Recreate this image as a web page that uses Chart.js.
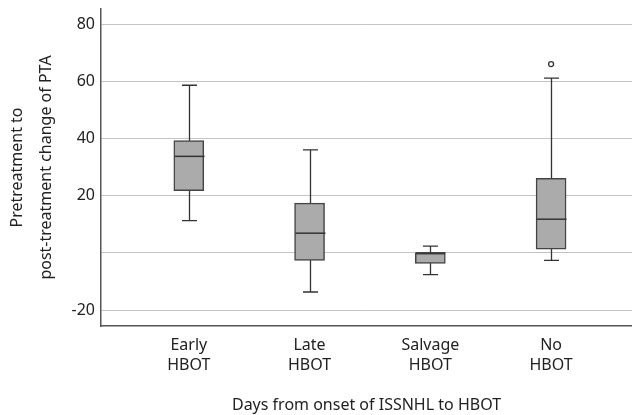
<!DOCTYPE html>
<html>
<head>
<meta charset="utf-8">
<script src="https://cdn.jsdelivr.net/npm/chart.js@4/dist/chart.umd.min.js"></script>
<style>
  html, body { margin: 0; padding: 0; background: #fff; }
  canvas { display: block; }
</style>
</head>
<body>
<canvas id="chart" width="632" height="415"></canvas>
<script>
// box plot summaries
const groups      = [['Early', 'HBOT'], ['Late', 'HBOT'], ['Salvage', 'HBOT'], ['No', 'HBOT']];
const whiskerLow  = [11.3, -13.7, -7.6, -2.6];
const q1          = [21.8, -2.6, -3.7, 1.3];
const median      = [33.8, 6.9, 0, 11.8];
const q3          = [39.3, 17.4, 0, 26.1];
const whiskerHigh = [58.7, 36.1, 2.4, 61.2];
const outliers    = [{ group: 4, value: 66.1 }];
const yTicks      = [-20, 0, 20, 40, 60, 80];

const FONT = { family: '"Noto Sans", "Open Sans", sans-serif', size: 16 };
const TEXT = '#222';
const LINE = '#333';

// whiskers + caps go under the boxes, medians on top
const boxParts = {
    id: 'boxParts',
    beforeDatasetsDraw(chart) {
        const { ctx, scales: { x, y } } = chart;
        ctx.save();
        ctx.strokeStyle = LINE;
        ctx.lineWidth = 1.3;
        groups.forEach((g, i) => {
            const px = Math.round(x.getPixelForValue(i + 1)) + 0.5;
            const lo = y.getPixelForValue(whiskerLow[i]);
            const hi = y.getPixelForValue(whiskerHigh[i]);
            ctx.beginPath();
            ctx.moveTo(px, lo); ctx.lineTo(px, hi);
            ctx.moveTo(px - 7.5, lo); ctx.lineTo(px + 7.5, lo);
            ctx.moveTo(px - 7.5, hi); ctx.lineTo(px + 7.5, hi);
            ctx.stroke();
        });
        ctx.restore();
    },
    afterDatasetsDraw(chart) {
        const { ctx, scales: { x, y } } = chart;
        ctx.save();
        ctx.strokeStyle = LINE;
        ctx.lineWidth = 1.5;
        groups.forEach((g, i) => {
            const px = Math.round(x.getPixelForValue(i + 1)) + 0.5;
            const my = y.getPixelForValue(median[i]);
            ctx.beginPath();
            ctx.moveTo(px - 15, my); ctx.lineTo(px + 15, my);
            ctx.stroke();
        });
        ctx.restore();
    },
};

new Chart(document.getElementById('chart'), {
    type: 'bar',
    data: {
        datasets: [
            {
                type: 'bar',
                data: groups.map((g, i) => ({ x: i + 1, y: [q1[i], q3[i]] })),
                backgroundColor: '#ababab',
                borderColor: '#444',
                borderWidth: 1.5,
                borderSkipped: false,
                barThickness: 30,
                grouped: false,
            },
            {
                type: 'scatter',
                data: outliers.map((o) => ({ x: o.group, y: o.value })),
                pointRadius: 2.5,
                pointBorderWidth: 1.3,
                pointBorderColor: LINE,
                pointBackgroundColor: '#fff',
            },
        ],
    },
    plugins: [boxParts],
    options: {
        responsive: false,
        animation: false,
        layout: { autoPadding: false, padding: { top: 9, left: 0, right: 0, bottom: 0 } },
        plugins: { legend: { display: false }, tooltip: { enabled: false } },
        scales: {
            x: {
                type: 'linear',
                min: 0.273,
                max: 4.67,
                offset: false,
                grid: { display: false, drawTicks: false },
                border: { color: '#555', width: 1.5 },
                afterBuildTicks: (s) => { s.ticks = groups.map((g, i) => ({ value: i + 1 })); },
                afterFit: (s) => { s.height = 89; s.paddingLeft = 0; s.paddingRight = 0; },
                ticks: {
                    callback: (v) => groups[v - 1],
                    autoSkip: false,
                    maxRotation: 0,
                    padding: 9,
                    color: TEXT,
                    font: { ...FONT, lineHeight: 1.25 },
                },
                title: {
                    display: true,
                    text: 'Days from onset of ISSNHL to HBOT',
                    color: TEXT,
                    font: { ...FONT, lineHeight: 1.25 },
                    padding: 0,
                },
            },
            y: {
                min: -25.6,
                max: 85.4,
                grid: { color: '#c4c4c4', lineWidth: 1, drawTicks: false },
                border: { color: '#555', width: 1.5 },
                afterBuildTicks: (s) => { s.ticks = yTicks.map((v) => ({ value: v })); },
                afterFit: (s) => { s.width = 101; s.paddingTop = 0; s.paddingBottom = 0; },
                ticks: {
                    callback: (v) => (v === 0 ? '' : v),
                    padding: 6,
                    color: TEXT,
                    font: FONT,
                },
                title: {
                    display: true,
                    text: ['Pretreatment to', 'post-treatment change of PTA'],
                    color: TEXT,
                    font: { ...FONT, lineHeight: 1.8125 },
                    padding: { top: 2.5, bottom: 0 },
                },
            },
        },
    },
});
</script>
</body>
</html>
